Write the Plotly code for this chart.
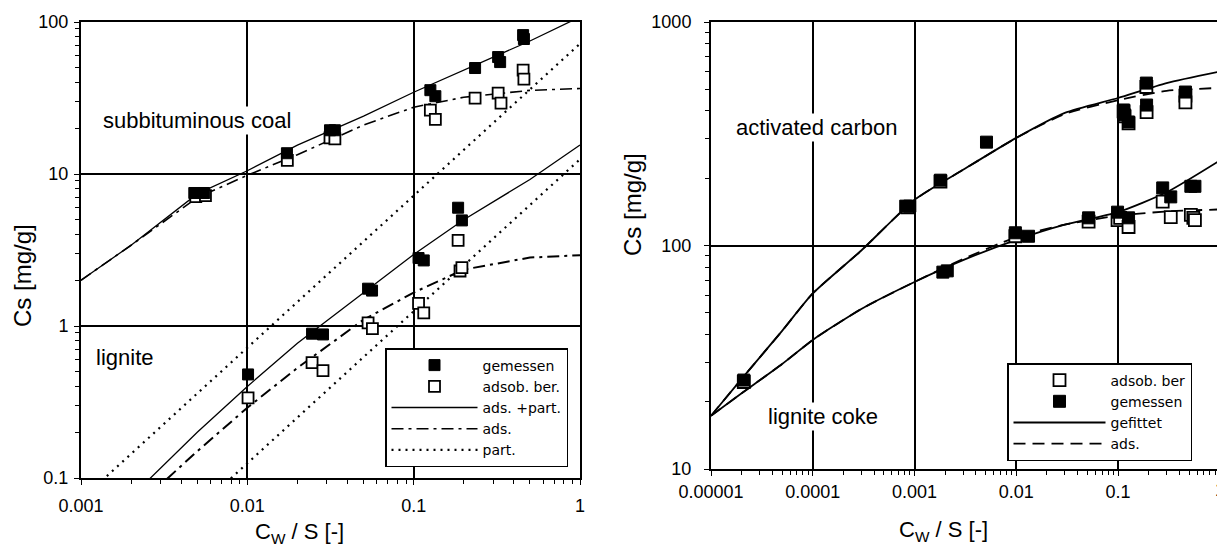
import plotly.graph_objects as go

# ---------------- left panel: subbituminous coal / lignite ----------------
x_curve_l = [0.001, 0.002, 0.005, 0.01, 0.02, 0.05, 0.1, 0.2, 0.5, 1.0]

sub_total = [2.0, 3.4, 7.4, 10.5, 15.5, 24.0, 34.5, 48.0, 75.0, 108.0]
sub_ads = [2.0, 3.4, 7.0, 9.8, 13.4, 21.0, 27.5, 32.0, 35.5, 36.5]
sub_part = [0.072, 0.144, 0.36, 0.72, 1.44, 3.6, 7.2, 14.4, 36.0, 72.0]

lig_total = [0.035, 0.075, 0.2, 0.4, 0.77, 1.65, 2.95, 5.0, 9.2, 15.5]
lig_ads = [0.025, 0.06, 0.15, 0.29, 0.53, 1.1, 1.66, 2.35, 2.82, 2.92]
lig_part = [0.0125, 0.025, 0.062, 0.125, 0.25, 0.62, 1.25, 2.5, 6.2, 12.5]

sub_meas_x = [0.0048, 0.0055, 0.0173, 0.0314, 0.0336, 0.126, 0.135, 0.234, 0.322, 0.331, 0.455, 0.46]
sub_meas_y = [7.5, 7.5, 13.7, 19.4, 19.4, 35.6, 32.5, 49.8, 58.8, 54.5, 82.0, 77.3]
sub_calc_x = [0.0049, 0.0056, 0.0174, 0.0314, 0.0336, 0.126, 0.135, 0.234, 0.322, 0.335, 0.455, 0.46]
sub_calc_y = [7.1, 7.2, 12.3, 17.3, 17.0, 26.3, 22.9, 31.6, 34.0, 29.3, 48.3, 42.1]

lig_meas_x = [0.0101, 0.0245, 0.0285, 0.0532, 0.0562, 0.107, 0.115, 0.185, 0.195]
lig_meas_y = [0.48, 0.89, 0.88, 1.76, 1.71, 2.8, 2.7, 6.0, 4.95]
lig_calc_x = [0.0101, 0.0245, 0.0285, 0.0532, 0.0565, 0.107, 0.115, 0.185, 0.19, 0.195]
lig_calc_y = [0.337, 0.574, 0.508, 1.05, 0.96, 1.41, 1.22, 3.66, 2.3, 2.42]

ticks_x_l = [0.001, 0.01, 0.1, 1]
ticktext_x_l = ["0.001", "0.01", "0.1", "1"]
ticks_y_l = [0.1, 1, 10, 100]
ticktext_y_l = ["0.1", "1", "10", "100"]

# ---------------- right panel: activated carbon / lignite coke ----------------
x_curve_r = [1e-5, 2e-5, 5e-5, 1e-4, 3e-4, 1e-3, 3e-3, 1e-2, 3e-2, 0.1, 0.3, 1.0]

ac_fit = [17.3, 25.3, 41.5, 61.0, 95.0, 160.0, 218.0, 303.0, 392.0, 457.0, 533.0, 600.0]
ac_ads = [17.3, 25.3, 41.5, 61.0, 95.0, 160.0, 218.0, 303.0, 388.0, 447.0, 492.0, 507.0]
lc_fit = [17.3, 21.8, 29.5, 37.8, 52.0, 68.7, 86.0, 106.0, 124.0, 141.0, 173.0, 240.0]
lc_ads = [17.3, 21.8, 29.5, 37.8, 52.0, 68.7, 87.0, 109.0, 124.0, 136.0, 142.0, 145.0]

ac_meas_x = [2.1e-5, 0.00082, 0.0009, 0.0018, 0.0051, 0.1135, 0.116, 0.127, 0.19, 0.191, 0.46]
ac_meas_y = [25.0, 150.0, 150.0, 196.0, 290.0, 404.0, 384.0, 357.0, 533.0, 425.0, 486.0]
ac_calc_x = [2.1e-5, 0.00085, 0.0018, 0.1135, 0.116, 0.127, 0.19, 0.191, 0.46, 0.46]
ac_calc_y = [24.5, 148.0, 193.0, 398.0, 378.0, 352.0, 512.0, 395.0, 468.0, 437.0]

lc_meas_x = [0.0019, 0.0021, 0.0098, 0.0132, 0.0514, 0.099, 0.127, 0.275, 0.33, 0.52, 0.57]
lc_meas_y = [76.0, 77.0, 114.0, 110.0, 133.0, 141.0, 133.0, 181.0, 165.0, 184.0, 184.0]
lc_calc_x = [0.0098, 0.0514, 0.099, 0.105, 0.127, 0.275, 0.33, 0.52, 0.55, 0.57]
lc_calc_y = [110.0, 128.0, 130.0, 133.0, 121.0, 157.0, 134.0, 137.0, 133.0, 130.0]

ticks_x_r = [1e-5, 1e-4, 1e-3, 1e-2, 0.1]
ticktext_x_r = ["0.00001", "0.0001", "0.001", "0.01", "0.1"]
ticks_y_r = [10, 100, 1000]
ticktext_y_r = ["10", "100", "1000"]

# ---------------- figure ----------------
W, H = 1217, 548
FONT = "Liberation Sans, Arial, sans-serif"
LEG_FONT = "DejaVu Sans, sans-serif"


def fx(p):
    return p / W


def fy(p):
    return 1 - p / H


fig = go.Figure()

dashdot = "12px,5px,3px,5px"
dotted = "2px,5px"

# left panel lines
for name, ys, dash, width, rank, show in [
    ("ads. +part.", sub_total, "solid", 1.3, 3, True),
    ("ads.", sub_ads, dashdot, 1.6, 4, True),
    ("part.", sub_part, dotted, 2.2, 5, True),
    ("ads. +part.", lig_total, "solid", 1.3, 3, False),
    ("ads.", lig_ads, dashdot, 2.0, 4, False),
    ("part.", lig_part, dotted, 2.2, 5, False),
]:
    fig.add_trace(go.Scatter(
        x=x_curve_l, y=ys, mode="lines", name=name, legendgroup="L" + name,
        showlegend=show, legendrank=rank, legend="legend",
        line=dict(color="black", width=width, dash=dash),
        xaxis="x", yaxis="y", hoverinfo="skip"))

open_sq = dict(symbol="square", size=11, color="white", line=dict(color="black", width=1.8))
fill_sq = dict(symbol="square", size=11, color="black", line=dict(color="black", width=1))

for xs, ys, show in [(sub_calc_x, sub_calc_y, True), (lig_calc_x, lig_calc_y, False)]:
    fig.add_trace(go.Scatter(
        x=xs, y=ys, mode="markers", name="adsob. ber.", legendgroup="Lcalc",
        showlegend=show, legendrank=2, legend="legend", marker=open_sq,
        xaxis="x", yaxis="y"))
for xs, ys, show in [(sub_meas_x, sub_meas_y, True), (lig_meas_x, lig_meas_y, False)]:
    fig.add_trace(go.Scatter(
        x=xs, y=ys, mode="markers", name="gemessen", legendgroup="Lmeas",
        showlegend=show, legendrank=1, legend="legend", marker=fill_sq,
        xaxis="x", yaxis="y"))

# right panel lines
for name, ys, dash, rank, show in [
    ("gefittet", ac_fit, "solid", 3, True),
    ("ads.", ac_ads, "12px,7px", 4, True),
    ("gefittet", lc_fit, "solid", 3, False),
    ("ads.", lc_ads, "12px,7px", 4, False),
]:
    fig.add_trace(go.Scatter(
        x=x_curve_r, y=ys, mode="lines", name=name, legendgroup="R" + name,
        showlegend=show, legendrank=rank, legend="legend2",
        line=dict(color="black", width=1.8, dash=dash, shape="spline", smoothing=0.6),
        xaxis="x2", yaxis="y2", hoverinfo="skip"))

open_sq_r = dict(open_sq, size=12)
fill_sq_r = dict(fill_sq, size=12)
for xs, ys, show in [(ac_calc_x, ac_calc_y, True), (lc_calc_x, lc_calc_y, False)]:
    fig.add_trace(go.Scatter(
        x=xs, y=ys, mode="markers", name="adsob. ber", legendgroup="Rcalc",
        showlegend=show, legendrank=1, legend="legend2", marker=open_sq_r,
        xaxis="x2", yaxis="y2"))
for xs, ys, show in [(ac_meas_x, ac_meas_y, True), (lc_meas_x, lc_meas_y, False)]:
    fig.add_trace(go.Scatter(
        x=xs, y=ys, mode="markers", name="gemessen", legendgroup="Rmeas",
        showlegend=show, legendrank=2, legend="legend2", marker=fill_sq_r,
        xaxis="x2", yaxis="y2"))

minor = dict(ticks="outside", ticklen=4, tickwidth=1, tickcolor="black",
             dtick="D1", showgrid=False)
axis_common = dict(
    type="log", showline=True, linecolor="black", linewidth=2, mirror=True,
    showgrid=True, gridcolor="black", gridwidth=1.6, zeroline=False,
    ticks="outside", ticklen=5, tickwidth=1.3, tickcolor="black",
    tickfont=dict(family=FONT, size=18, color="black"),
    minor=minor, fixedrange=True, automargin=False)

fig.update_layout(
    width=W, height=H, margin=dict(l=0, r=0, t=0, b=0, autoexpand=False),
    paper_bgcolor="white", plot_bgcolor="white",
    font=dict(family=FONT, size=18, color="black"),
    xaxis=dict(axis_common, domain=[fx(81), fx(580)], range=[-3, 0],
               tickvals=ticks_x_l, ticktext=ticktext_x_l, anchor="y",
               ticklabelstandoff=5),
    yaxis=dict(axis_common, domain=[fy(478), fy(22)], range=[-1, 2],
               tickvals=ticks_y_l, ticktext=ticktext_y_l, anchor="x",
               ticklabelstandoff=2),
    xaxis2=dict(axis_common, domain=[fx(711), 1.0], range=[-5, -0.027],
                tickvals=ticks_x_r, ticktext=ticktext_x_r, anchor="y2",
                ticklabelstandoff=0),
    yaxis2=dict(axis_common, domain=[fy(469), fy(22)], range=[1, 3],
                tickvals=ticks_y_r, ticktext=ticktext_y_r, anchor="x2",
                ticklabelstandoff=9),
    legend=dict(x=fx(568), y=fy(467), xanchor="right", yanchor="bottom",
                bgcolor="white", bordercolor="black", borderwidth=1.5,
                itemwidth=86, tracegroupgap=0,
                font=dict(family=LEG_FONT, size=14, color="black")),
    legend2=dict(x=fx(1192), y=fy(461), xanchor="right", yanchor="bottom",
                 bgcolor="white", bordercolor="black", borderwidth=1.5,
                 itemwidth=92, tracegroupgap=0,
                 font=dict(family=LEG_FONT, size=14, color="black")),
    showlegend=True,
)

label_font = dict(family=FONT, size=22, color="black")
title_font = dict(family=FONT, size=22, color="black")
centered = dict(showarrow=False, xanchor="center", yanchor="middle")

annotations = [
    dict(centered, text="subbituminous coal", x=-2.30, y=1.355, xref="x", yref="y",
         bgcolor="white", font=label_font),
    dict(centered, text="lignite", x=-2.74, y=-0.205, xref="x", yref="y",
         bgcolor="white", font=label_font),
    dict(centered, text="activated carbon", x=-3.968, y=2.53, xref="x2", yref="y2",
         bgcolor="white", font=label_font),
    dict(centered, text="lignite coke", x=-3.90, y=1.237, xref="x2", yref="y2",
         bgcolor="white", font=label_font),
    dict(centered, text="C<sub>W</sub> / S [-]", x=fx(299), y=fy(533),
         xref="paper", yref="paper", font=title_font),
    dict(centered, text="C<sub>W</sub> / S [-]", x=fx(943), y=fy(531),
         xref="paper", yref="paper", font=title_font),
    dict(centered, text="Cs [mg/g]", x=fx(22), y=fy(276), xref="paper", yref="paper",
         textangle=-90, font=dict(title_font, size=24)),
    dict(centered, text="Cs [mg/g]", x=fx(633), y=fy(205), xref="paper", yref="paper",
         textangle=-90, font=dict(title_font, size=24)),
    dict(centered, text="1", x=fx(1220), y=fy(490), xref="paper", yref="paper",
         font=dict(family=FONT, size=18, color="black")),
]
fig.update_layout(annotations=annotations)

fig.write_html("out.html")
